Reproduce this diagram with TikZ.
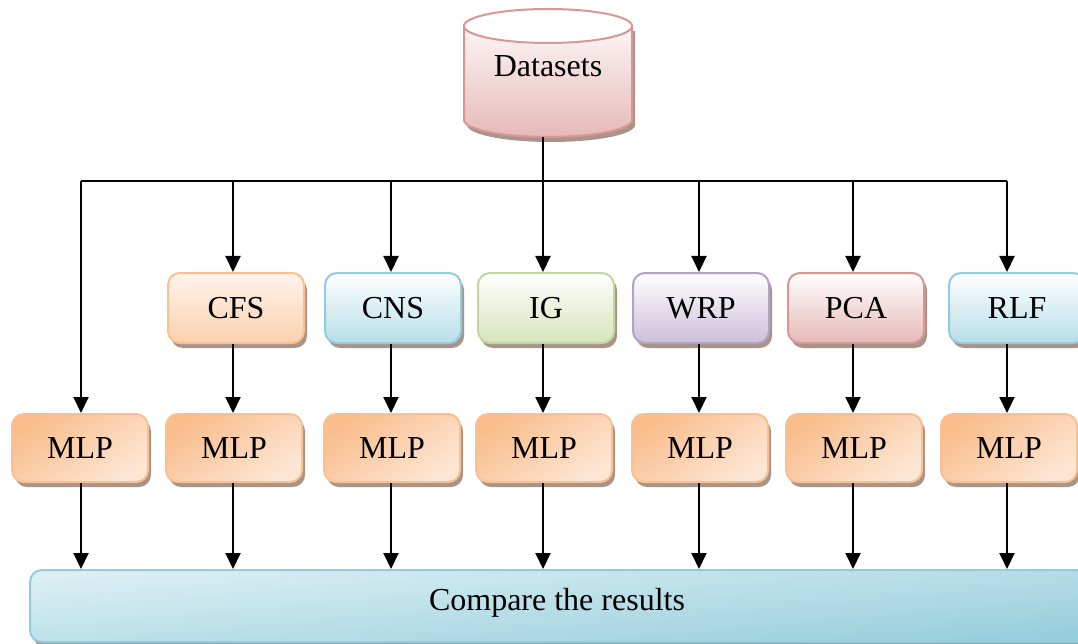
\documentclass[tikz,border=0pt]{standalone}
\usepackage{fontspec}
\setmainfont{Liberation Serif}
\usetikzlibrary{arrows.meta,shadows}
\definecolor{orline}{HTML}{FAC090}
\definecolor{orfill}{HTML}{FBD0AE}
\definecolor{ortop}{HTML}{FFF4EC}
\definecolor{mlpdark}{HTML}{F9BD8C}
\definecolor{mlplight}{HTML}{FDE6D4}
\definecolor{blline}{HTML}{93CDDD}
\definecolor{blfill}{HTML}{B7DEE8}
\definecolor{grline}{HTML}{C3D69B}
\definecolor{grfill}{HTML}{D7E4BD}
\definecolor{puline}{HTML}{B3A2C7}
\definecolor{pufill}{HTML}{CCC0DA}
\definecolor{reline}{HTML}{D99694}
\definecolor{refill}{HTML}{E6B9B8}
\definecolor{cmptop}{HTML}{DCEFF4}
\definecolor{cmpbot}{HTML}{96CEDC}
\definecolor{shadowc}{HTML}{A8958A}
\tikzset{
  base/.style={rounded corners=12pt, line width=2pt, minimum width=136pt,
    minimum height=70pt, inner sep=0pt, font=\fontsize{32}{37}\selectfont,
    drop shadow={shadow xshift=3pt, shadow yshift=-5pt, fill=shadowc, opacity=1}},
  orbox/.style={base, draw=orline, top color=ortop, bottom color=orfill},
  blbox/.style={base, draw=blline, top color=white, bottom color=blfill},
  grbox/.style={base, draw=grline, top color=white, bottom color=grfill},
  pubox/.style={base, draw=puline, top color=white, bottom color=pufill},
  rebox/.style={base, draw=reline, top color=white, bottom color=refill},
  mlpbox/.style={base, minimum height=68pt, draw=orline, top color=mlpdark,
    bottom color=mlplight, shading angle=35},
  cmpbox/.style={base, minimum height=72pt, minimum width=1060pt, draw=blline,
    top color=cmptop, bottom color=cmpbot, shading angle=5},
  conn/.style={line width=2pt, black},
  arr/.style={conn, -{Triangle[width=15pt,length=16pt]}},
}
\begin{document}
\begin{tikzpicture}[x=1pt,y=-1pt]
\useasboundingbox (0,0) rectangle (1078,644);
% Datasets cylinder
\begin{scope}[shift={(3,5)}]
  \fill[shadowc] (464,26) -- (464,120) arc[start angle=180, end angle=0, x radius=84, y radius=17]
    -- (632,26) -- cycle;
\end{scope}
\shade[top color=white, bottom color=refill] (464,26) -- (464,120)
  arc[start angle=180, end angle=0, x radius=84, y radius=17] -- (632,26)
  arc[start angle=0, end angle=-180, x radius=84, y radius=17] -- cycle;
\draw[reline, line width=2pt] (464,26) -- (464,120)
  arc[start angle=180, end angle=0, x radius=84, y radius=17] -- (632,26);
\draw[reline, line width=2pt, fill=white] (548,26) ellipse[x radius=84, y radius=17];
\node (ds) at (548,72.5) [minimum width=168pt, minimum height=129pt, inner sep=0pt] {};
\node (dslabel) at (ds.center) [yshift=6pt, font=\fontsize{32}{37}\selectfont] {Datasets};

% bus coordinates
\coordinate (b1) at (81,181);
\coordinate (b2) at (233,181);
\coordinate (b3) at (391,181);
\coordinate (b4) at (543,181);
\coordinate (b5) at (699,181);
\coordinate (b6) at (853,181);
\coordinate (b7) at (1007,181);

% method boxes
\node[orbox] (cfs) at (236,308) {CFS};
\node[blbox] (cns) at (393,308) {CNS};
\node[grbox] (ig)  at (546,308) {IG};
\node[pubox] (wrp) at (701,308) {WRP};
\node[rebox] (pca) at (856,308) {PCA};
\node[blbox] (rlf) at (1017,308) {RLF};

% MLP boxes
\node[mlpbox] (m1) at (80,448) {MLP};
\node[mlpbox] (m2) at (234,448) {MLP};
\node[mlpbox] (m3) at (392,448) {MLP};
\node[mlpbox] (m4) at (544,448) {MLP};
\node[mlpbox] (m5) at (700,448) {MLP};
\node[mlpbox] (m6) at (854,448) {MLP};
\node[mlpbox] (m7) at (1009,448) {MLP};

% compare box
\node[cmpbox] (cmp) at (560,606) {};
\node (cmplabel) at (557,603) [font=\fontsize{32}{37}\selectfont] {Compare the results};

% connectors
\draw[conn] (b4 |- ds.south) -- (b4);
\draw[conn] (b1) -- (b7);
\draw[arr] (b1) -- (b1 |- m1.north);
\draw[arr] (b2) -- (b2 |- cfs.north);
\draw[arr] (b3) -- (b3 |- cns.north);
\draw[arr] (b4) -- (b4 |- ig.north);
\draw[arr] (b5) -- (b5 |- wrp.north);
\draw[arr] (b6) -- (b6 |- pca.north);
\draw[arr] (b7) -- (b7 |- rlf.north);
\draw[arr] (b2 |- cfs.south) -- (b2 |- m2.north);
\draw[arr] (b3 |- cns.south) -- (b3 |- m3.north);
\draw[arr] (b4 |- ig.south) -- (b4 |- m4.north);
\draw[arr] (b5 |- wrp.south) -- (b5 |- m5.north);
\draw[arr] (b6 |- pca.south) -- (b6 |- m6.north);
\draw[arr] (b7 |- rlf.south) -- (b7 |- m7.north);
\draw[arr] (b1 |- m1.south) -- (b1 |- cmp.north);
\draw[arr] (b2 |- m2.south) -- (b2 |- cmp.north);
\draw[arr] (b3 |- m3.south) -- (b3 |- cmp.north);
\draw[arr] (b4 |- m4.south) -- (b4 |- cmp.north);
\draw[arr] (b5 |- m5.south) -- (b5 |- cmp.north);
\draw[arr] (b6 |- m6.south) -- (b6 |- cmp.north);
\draw[arr] (b7 |- m7.south) -- (b7 |- cmp.north);
\end{tikzpicture}
\end{document}
